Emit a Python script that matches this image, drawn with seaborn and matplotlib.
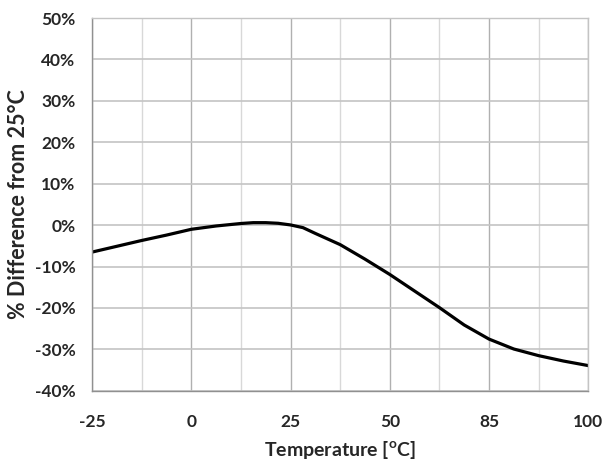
import numpy as np
import matplotlib.pyplot as plt
import seaborn as sns
from matplotlib.ticker import FixedLocator, FuncFormatter

# temperature categories, drawn evenly spaced like the original chart
temp_labels = ["-25", "0", "25", "50", "85", "100"]
# curve positions (category index) and % difference
curve_pos = [0, 0.25, 0.5, 0.75, 1, 1.25, 1.5, 1.625, 1.75, 1.875, 2, 2.125, 2.25, 2.5,
             2.75, 3, 3.25, 3.5, 3.75, 4, 4.25, 4.5, 4.75, 5]
curve_pct = [-6.5, -5.1, -3.7, -2.4, -1.0, -0.2, 0.4, 0.6, 0.6, 0.45, 0.05, -0.6, -2.0, -4.7,
             -8.2, -11.9, -15.9, -19.9, -24.1, -27.5, -29.9, -31.5, -32.8, -33.9]

sns.set_style("white")
plt.rcParams["font.family"] = ["Lato", "DejaVu Sans"]
plt.rcParams["mathtext.fontset"] = "custom"
plt.rcParams["mathtext.rm"] = "Lato"
plt.rcParams["mathtext.bf"] = "Lato:bold"

fig = plt.figure(figsize=(6.14, 4.62), dpi=100)
ax = fig.add_axes([0.150, 0.154, 0.808, 0.807])

sns.lineplot(x=curve_pos, y=curve_pct, color="black", linewidth=2.3, ax=ax)

ax.set_xlim(0, len(temp_labels) - 1)
ax.set_ylim(-40, 50)
ax.xaxis.set_major_locator(FixedLocator(np.arange(len(temp_labels))))
ax.xaxis.set_minor_locator(FixedLocator(np.arange(0.5, len(temp_labels) - 1, 1)))
ax.set_xticklabels(temp_labels)
ax.yaxis.set_major_locator(FixedLocator(np.arange(-40, 51, 10)))
ax.yaxis.set_major_formatter(FuncFormatter(lambda v, p: f"{v:.0f}%"))

ax.grid(axis="y", which="major", color="#c4c4c4", linewidth=1.2)
ax.grid(axis="x", which="major", color="#b0b0b0", linewidth=1.0)
ax.grid(axis="x", which="minor", color="#d8d8d8", linewidth=1.0)
ax.set_axisbelow(True)

for side in ["top", "right"]:
    ax.spines[side].set_color("#c4c4c4")
    ax.spines[side].set_linewidth(1.0)
for side in ["left", "bottom"]:
    ax.spines[side].set_color("#909090")
    ax.spines[side].set_linewidth(1.0)

ax.tick_params(axis="both", which="both", length=0, labelsize=12.5)
ax.tick_params(axis="x", pad=17)
ax.tick_params(axis="y", pad=12)
for lbl in ax.get_xticklabels() + ax.get_yticklabels():
    lbl.set_fontweight("bold")

ax.set_xlabel(r"Temperature [$^{\mathbf{o}}$C]", fontsize=14, fontweight="bold", labelpad=6)
ax.set_ylabel("% Difference from 25°C", fontsize=15.5, fontweight="bold", labelpad=4)

fig.savefig("out.png", dpi=100)
